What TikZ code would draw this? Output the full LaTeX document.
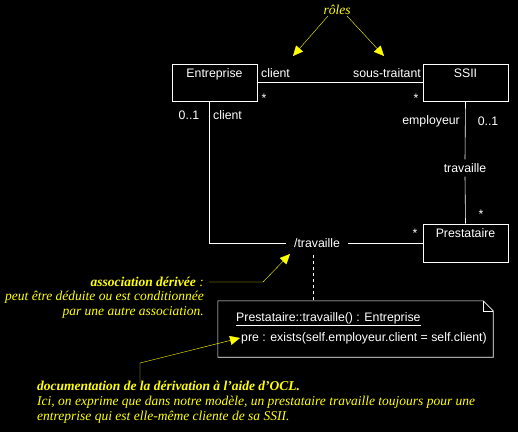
\documentclass[tikz,border=0pt]{standalone}
\usepackage{fontspec}
\setmainfont{Liberation Serif}
\setsansfont{Liberation Sans}
\usetikzlibrary{arrows.meta,positioning,calc}
\definecolor{note}{RGB}{255,255,0}

\begin{document}
\begin{tikzpicture}[
  x=1pt, y=-1pt,
  cls/.style={draw=white, semithick, minimum width=85, minimum height=37, inner sep=0},
  lbl/.style={text=white, font=\sffamily\fontsize{12.3}{14}\selectfont, inner sep=1},
  ann/.style={text=note, font=\itshape\fontsize{13.5}{15}\selectfont, inner sep=0},
  annb/.style={ann, font=\bfseries\itshape\fontsize{13.5}{15}\selectfont},
  link/.style={draw=white, semithick},
  arr/.style={draw=note, -{Triangle[length=3.5mm, width=3.2mm]}, thin}
]
  \fill[black] (0,0) rectangle (518,432);

  % classes
  \node[cls] (ent) at (214.5,82.5) {};
  \node[lbl, below=4pt of ent.north] (entn) {Entreprise};
  \node[cls] (ssii) at (465.5,82.5) {};
  \node[lbl, below=4pt of ssii.north] (ssiin) {SSII};
  \node[cls, minimum height=38] (pres) at (465.5,243) {};
  \node[lbl, below=4pt of pres.north] (presn) {Prestataire};

  % association Entreprise - SSII
  \draw[link] (ent.east) -- (ssii.west);
  \node[lbl, anchor=west] (cl1) at (260,73) {client};
  \node[lbl, anchor=east] (st) at (422,73) {sous-traitant};
  \node[lbl] (m1) at (264,98) {*};
  \node[lbl] (m2) at (416,98) {*};

  % association SSII - Prestataire
  \node[lbl, inner ysep=4] (tr2) at (465,168) {travaille};
  \draw[link] (ssii.south) -- (tr2.north);
  \draw[link] (tr2.south) -- (pres.north);
  \node[lbl, anchor=east] (emp) at (461,121) {employeur};
  \node[lbl] (m3) at (488,121) {0..1};
  \node[lbl] (m4) at (481,214) {*};

  % association derivee
  \node[lbl, inner xsep=8] (trav) at (317,243) {/travaille};
  \draw[link] ([xshift=-5.5]ent.south) |- (trav.west);
  \draw[link] (trav.east) -- (pres.west);
  \node[lbl] (m5) at (189,115) {0..1};
  \node[lbl, anchor=west] (cl2) at (212,115) {client};
  \node[lbl] (m6) at (415,233) {*};

  % note OCL
  \node[minimum width=275, minimum height=56, inner sep=0] (ocl) at (355.5,329) {};
  \draw[white, semithick] (ocl.north west) -- ([xshift=-10]ocl.north east) -- ([yshift=-10]ocl.north east)
    -- (ocl.south east) -- (ocl.south west) -- cycle;
  \draw[white, semithick] ([xshift=-10]ocl.north east) |- ([yshift=-10]ocl.north east);
  \node[lbl, anchor=west] (sig) at (235,319) {\underline{Prestataire::travaille() : Entreprise}};
  \node[lbl, anchor=west] (pre) at (240,338) {pre : exists(self.employeur.client = self.client)};
  \draw[white, semithick, dashed] ([xshift=-4,yshift=-6]trav.south) -- ([xshift=-4]trav.south |- ocl.north);

  % commentaires
  \node[ann] (roles) at (337,10) {rôles};
  \coordinate (r1) at (293,56);
  \coordinate (r2) at (384,56);
  \draw[arr] ([xshift=-9,yshift=-1]roles.south) -- (r1);
  \draw[arr] ([xshift=10,yshift=-1]roles.south) -- (r2);

  \node[anchor=east, inner sep=0] (der) at (204,282) {\textcolor{note}{\bfseries\itshape\fontsize{13.5}{15}\selectfont association dérivée}\textcolor{note}{\itshape\fontsize{13.5}{15}\selectfont\ :}};
  \node[ann, anchor=north east, align=right] (derx) at (204,291) {peut être déduite ou est conditionnée\\par une autre association.};
  \coordinate (d1) at (290,254);
  \draw[arr] ([xshift=5]der.east) -- (263,282) -- (d1);

  \node[annb, anchor=west] (doc) at (37,386) {documentation de la dérivation à l’aide d’OCL.};
  \node[ann, anchor=north west, align=left] (docx) at (37,396) {Ici, on exprime que dans notre modèle, un prestataire travaille toujours pour une\\entreprise qui est elle-même cliente de sa SSII.};
  \draw[arr] ([xshift=103,yshift=-2]doc.north west) -- ++(0,-20) -- (pre.west);
\end{tikzpicture}
\end{document}
